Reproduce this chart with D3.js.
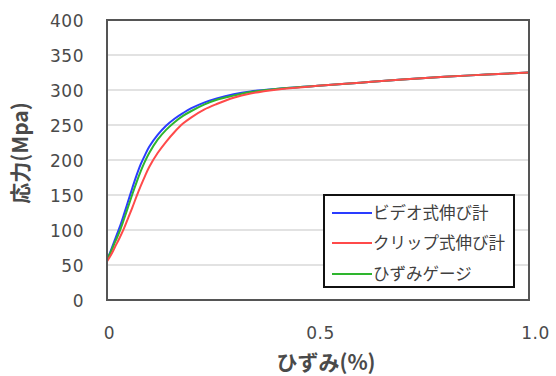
<!DOCTYPE html>
<html><head><meta charset="utf-8">
<script src="https://cdn.jsdelivr.net/npm/d3@7"></script>
<style>body{margin:0;background:#fff;}svg{display:block;font-family:"Noto Sans CJK JP","Noto Sans",sans-serif;}</style>
</head><body>
<svg id="c" width="556" height="376"></svg>
<script>
const seriesNames = ["ビデオ式伸び計", "クリップ式伸び計", "ひずみゲージ"];
const seriesColors = ["#2a3cff", "#ff4a4a", "#2eb52e"];
const strain = [0, 0.01, 0.02, 0.03, 0.04, 0.05, 0.06, 0.07, 0.08, 0.09, 0.10, 0.12, 0.14, 0.16, 0.18, 0.20, 0.23, 0.26, 0.30, 0.34, 0.40, 0.5, 0.6, 0.7, 0.8, 0.9, 1.0];
const videoStress = [57, 72, 88, 104, 122, 141, 160, 178, 194, 207, 219, 236, 249, 259, 267, 274, 282, 288, 294, 298, 301.5, 306, 310.5, 315, 319, 322, 325];
const clipStress = [55, 65, 77, 89, 102, 117, 132, 148, 163, 177, 190, 210, 226, 240, 252, 261, 272, 280, 289, 295, 300.5, 306, 310.5, 315, 319, 322, 325];
const gaugeStress = [57, 70, 84, 98, 115, 133, 151, 168, 184, 198, 210, 229, 243, 254, 263, 270, 279, 286, 292, 297, 301.5, 306, 310.5, 315, 319, 322, 325];
const yTicks = [0, 50, 100, 150, 200, 250, 300, 350, 400];
const xTicks = [0, 0.5, 1.0];
const xTickLabels = ["0", "0.5", "1.0"];
const xTitle = "ひずみ(%)";
const yTitle = "応力(Mpa)";

const svg = d3.select("#c");
const L = 107, R = 529, T = 20, B = 300;
const x = d3.scaleLinear().domain([0, 1]).range([L, R]);
const y = d3.scaleLinear().domain([0, 400]).range([B, T]);

// gridlines
svg.append("g").selectAll("line").data(yTicks.filter(v => v > 0 && v < 400)).join("line")
  .attr("x1", L).attr("x2", R).attr("y1", d => y(d)).attr("y2", d => y(d))
  .attr("stroke", "#d9d9d9").attr("stroke-width", 1.3);

// y tick labels
const yAxis = d3.axisLeft(y).tickValues(yTicks).tickSize(0).tickPadding(23);
const gy = svg.append("g").attr("transform", `translate(${L},0)`).call(yAxis);
gy.select(".domain").remove();
gy.selectAll("text").attr("font-size", 17).attr("fill", "#4a4a4a")
  .attr("font-family", "'DejaVu Sans',sans-serif").attr("letter-spacing", "0.5px").attr("dy", "0.36em");

// x tick labels
const xAxis = d3.axisBottom(x).tickValues(xTicks).tickFormat((d, i) => xTickLabels[i]).tickSize(0).tickPadding(27);
const gx = svg.append("g").attr("transform", `translate(0,${B})`).call(xAxis);
gx.select(".domain").remove();
gx.selectAll("text").attr("font-size", 17).attr("fill", "#4a4a4a")
  .attr("font-family", "'DejaVu Sans',sans-serif").attr("letter-spacing", "0.5px")
  .attr("dx", (d, i) => i === 2 ? 6 : 2);

// lines
const seriesStress = [videoStress, clipStress, gaugeStress];
const seriesData = seriesStress.map(arr => strain.map((s, i) => [s, arr[i]]));
const line = d3.line().x(d => x(d[0])).y(d => y(d[1])).curve(d3.curveCatmullRom.alpha(0.5));
[0, 2, 1].forEach(i => {
  svg.append("path").datum(seriesData[i]).attr("d", line)
    .attr("fill", "none").attr("stroke", seriesColors[i]).attr("stroke-width", 2);
});

// plot frame
svg.append("rect").attr("x", L).attr("y", T).attr("width", R - L).attr("height", B - T)
  .attr("fill", "none").attr("stroke", "#555").attr("stroke-width", 2);

// axis titles
svg.append("text").attr("x", 326).attr("y", 370).attr("text-anchor", "middle")
  .attr("font-size", 21).attr("font-weight", "bold").attr("fill", "#4a4a4a").text(xTitle);
svg.append("text").attr("transform", "translate(28,153) rotate(-90)").attr("text-anchor", "middle")
  .attr("font-size", 21).attr("font-weight", "bold").attr("fill", "#4a4a4a").text(yTitle);

// legend
const lg = svg.append("g");
lg.append("rect").attr("x", 324).attr("y", 195).attr("width", 190).attr("height", 92)
  .attr("fill", "#fff").attr("stroke", "#111").attr("stroke-width", 2);
const legY = [213, 243, 274];
seriesNames.forEach((n, i) => {
  lg.append("line").attr("x1", 332).attr("x2", 372).attr("y1", legY[i]).attr("y2", legY[i])
    .attr("stroke", seriesColors[i]).attr("stroke-width", 2);
  lg.append("text").attr("x", 373).attr("y", legY[i]).attr("dy", "0.36em")
    .attr("font-size", 16.5).attr("fill", "#404040").text(n);
});
</script>
</body></html>
